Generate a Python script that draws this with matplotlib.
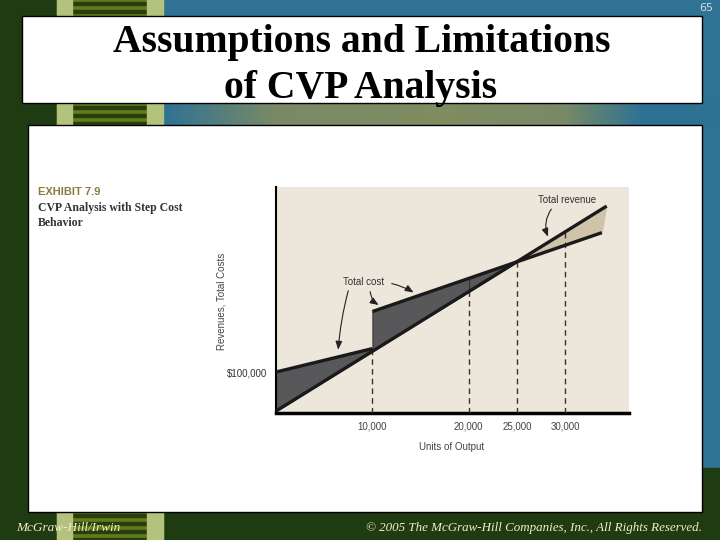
import numpy as np
import matplotlib
matplotlib.use("Agg")
import matplotlib.pyplot as plt
from matplotlib.patches import Rectangle

# data (units of output, dollars)
units = [0, 10000, 10000, 20000, 25000]
cost = [100000, 160000, 255000, 340000, 382500]
revenue = [0, 153000, 153000, 306000, 382500]
profit_units = [25000, 30000, 34300]
profit_rev = [382500, 459000, 525000]
cost_tail_units = [25000, 30000, 33800]
cost_tail = [382500, 425000, 457000]
rev_line_units = [0, 34300]
rev_line = [0, 525000]
cost_low_units = [0, 10000]
cost_low = [100000, 160000]
cost_high_units = [10000, 33800]
cost_high = [255000, 457000]
guide_units = [10000, 20000, 25000, 30000]
guide_tops = [153000, 306000, 382500, 459000]
xtick_labels = ["10,000", "20,000", "25,000", "30,000"]

narrow = ["Liberation Sans", "DejaVu Sans"]

fig = plt.figure(figsize=(7.2, 5.4), dpi=100)

# slide background
bg = fig.add_axes([0, 0, 1, 1])
bg.set_xlim(0, 720)
bg.set_ylim(540, 0)
bg.axis("off")
bg.add_patch(Rectangle((0, 0), 720, 540, color="#1f3b12", zorder=0))
bg.add_patch(Rectangle((163, 0), 557, 468, color="#2f7293", zorder=1))
bg.add_patch(Rectangle((0, 468), 720, 72, color="#1f3b12", zorder=1))

# ladder strip
bg.add_patch(Rectangle((57, 0), 106, 540, color="#5f7d1c", zorder=2))
for y in np.arange(2, 540, 8):
    bg.add_patch(Rectangle((72, y), 75, 2.5, color="#2b3d0c", zorder=3))
bg.add_patch(Rectangle((57, 0), 15, 540, color="#b3c27c", zorder=4))
bg.add_patch(Rectangle((147, 0), 16, 540, color="#b3c27c", zorder=4))

# gradient band between title and content
cols = np.array([[0.18, 0.45, 0.58], [0.48, 0.54, 0.40], [0.50, 0.55, 0.38],
                 [0.48, 0.54, 0.40], [0.18, 0.45, 0.58]])
stops = [0, 0.2, 0.5, 0.72, 0.86]
xs = np.linspace(0, 1, 200)
grad = np.stack([np.interp(xs, stops, cols[:, i]) for i in range(3)], axis=-1)
bg.imshow(grad[None, :, :], extent=(163, 720, 125, 103), aspect="auto", zorder=2)

bg.add_patch(Rectangle((22, 16), 680, 87, facecolor="white", edgecolor="black", lw=1, zorder=5))
bg.add_patch(Rectangle((28, 125), 674, 387, facecolor="white", edgecolor="black", lw=1, zorder=5))

bg.text(362, 52, "Assumptions and Limitations", ha="center", va="baseline", fontsize=28.5,
        fontweight="bold", family="Liberation Serif", zorder=6)
bg.text(361, 98, "of CVP Analysis", ha="center", va="baseline", fontsize=28.5,
        fontweight="bold", family="Liberation Serif", zorder=6)
bg.text(706, 8, "65", ha="center", va="center", fontsize=8, family="DejaVu Sans",
        color="#d0dde4", zorder=6)
bg.text(16, 528, "McGraw-Hill/Irwin", ha="left", va="center", fontsize=9.5, style="italic",
        family="Liberation Serif", color="#f2efc4", zorder=6)
bg.text(702, 528, "\u00a9 2005 The McGraw-Hill Companies, Inc., All Rights Reserved.", ha="right",
        va="center", fontsize=9.4, style="italic", family="Liberation Serif", color="#f2efc4", zorder=6)

bg.text(38, 192, "EXHIBIT 7.9", ha="left", va="center", fontsize=8, fontweight="bold",
        family=narrow, color="#8c7a3c", zorder=6)
bg.text(38, 208, "CVP Analysis with Step Cost", ha="left", va="center", fontsize=8.5,
        fontweight="bold", family="Liberation Serif", color="#333333", zorder=6)
bg.text(38, 223, "Behavior", ha="left", va="center", fontsize=8.5,
        fontweight="bold", family="Liberation Serif", color="#333333", zorder=6)
bg.text(221, 301, "Revenues, Total Costs", ha="center", va="center", rotation=90, fontsize=7,
        family=narrow, color="#444444", zorder=6)
bg.text(452, 447, "Units of Output", ha="center", va="center", fontsize=7,
        family=narrow, color="#444444", zorder=6)

# chart
ax = fig.add_axes([276 / 720, (540 - 413) / 540, (629 - 276) / 720, (413 - 187) / 540])
ax.set_facecolor("#ece6db")
ax.set_xlim(0, 36620)
ax.set_ylim(-5000, 574000)

ax.fill_between(units, revenue, cost, color="#58585b", lw=0.8, edgecolor="#3a3a3a", zorder=2)
ax.fill(profit_units + cost_tail_units[::-1], profit_rev + cost_tail[::-1],
        facecolor="#cfc3a9", edgecolor="#cfc3a9", zorder=2)
ax.fill([33800, 34300, 30000, 30000], [457000, 525000, 459000, 425000],
        facecolor="#cfc3a9", edgecolor="#cfc3a9", zorder=2)

ax.plot([20000, 20000], [306000, 340000], color="#333333", lw=0.8, zorder=3)
for u, top in zip(guide_units, guide_tops):
    ax.plot([u, u], [-5000, top], color="#333333", lw=1, dashes=(4, 3), zorder=3)

ax.plot(rev_line_units, rev_line, color="#1a1a1a", lw=2.4, solid_capstyle="butt", zorder=4)
ax.plot(cost_low_units, cost_low, color="#1a1a1a", lw=2.4, solid_capstyle="butt", zorder=4)
ax.plot(cost_high_units, cost_high, color="#1a1a1a", lw=2.4, solid_capstyle="butt", zorder=4)

arrow = dict(arrowstyle="-|>,head_length=0.5,head_width=0.2", color="#222222", lw=0.8)
ax.text(9130, 330800, "Total cost", ha="center", va="center", fontsize=7, family=narrow,
        color="#333333")
ax.annotate("", xy=(6430, 150000), xytext=(7570, 315000),
            arrowprops=dict(arrow, connectionstyle="arc3,rad=0.05"))
ax.annotate("", xy=(10890, 268000), xytext=(9750, 313000),
            arrowprops=dict(arrow, connectionstyle="arc3,rad=0.3"))
ax.annotate("", xy=(14520, 300000), xytext=(11720, 328000),
            arrowprops=dict(arrow, connectionstyle="arc3,rad=-0.1"))
ax.text(30190, 541000, "Total revenue", ha="center", va="center", fontsize=7, family=narrow,
        color="#333333")
ax.annotate("", xy=(28320, 440000), xytext=(28730, 523000),
            arrowprops=dict(arrow, connectionstyle="arc3,rad=0.3"))

for s in ["top", "right"]:
    ax.spines[s].set_visible(False)
ax.spines["left"].set_linewidth(1.5)
ax.spines["bottom"].set_linewidth(2.5)
ax.set_xticks(guide_units)
ax.set_xticklabels(xtick_labels, family=narrow, fontsize=7, color="#444444")
ax.set_yticks([100000])
ax.set_yticklabels(["$100,000"], family=narrow, fontsize=7, color="#333333")
ax.tick_params(length=0, pad=6)

fig.savefig("out.png", dpi=100)
